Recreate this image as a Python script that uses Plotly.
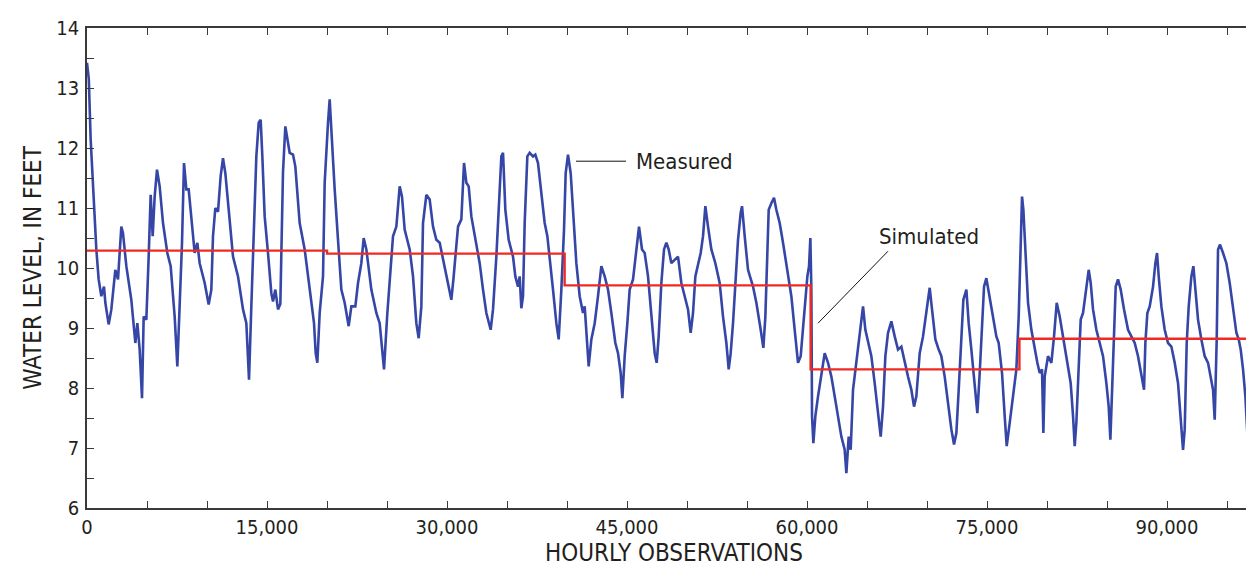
import plotly.graph_objects as go

# ---- Measured water level (hourly observations) ----
measured_x = [
    0, 150, 306, 500, 778, 972, 1194, 1417, 1528, 1806, 2028, 2361, 2583, 2861, 3000, 3278, 3694,
    4028, 4194, 4389, 4583, 4722, 4944, 5139, 5306, 5472, 5639, 5833, 6056, 6333, 6694, 6972, 7306,
    7528, 7722, 7917, 8083, 8278, 8472, 8694, 8972, 9194, 9389, 9806, 10139, 10361, 10500, 10694,
    10917, 11139, 11333, 11528, 11806, 12167, 12583, 13000, 13278, 13500, 13694, 13917, 14111,
    14306, 14472, 14611, 14806, 15083, 15361, 15500, 15694, 15917, 16111, 16333, 16528,
    16889, 17167, 17361, 17722, 18139, 18556, 18917, 19056, 19194, 19389, 19667, 19806, 19944,
    20083, 20222, 20361, 20639, 20917, 21194, 21472, 21806, 22028, 22361, 22583, 22861, 23056,
    23278, 23694, 24111, 24389, 24750, 25028, 25361, 25500, 25778, 26056, 26250, 26472, 26889,
    27167, 27444, 27639, 27861, 28000, 28278, 28556, 28833, 29111, 29389, 29806, 30139, 30361,
    30556, 30917, 31194, 31417, 31611, 31806, 32028, 32444,
    32722, 33000, 33278, 33639, 33833, 34111, 34306, 34528, 34667, 34861, 35139, 35500, 35694,
    35917, 36056, 36194, 36333, 36472, 36694, 36889, 37167, 37361, 37583, 37861, 38139, 38361,
    38556, 38833, 39111, 39306, 39528, 39750, 39889, 40083, 40306, 40500, 40778, 41056, 41333,
    41472, 41694, 41806, 42028, 42306, 42583, 42861, 43139, 43417, 43694, 44028, 44250, 44472,
    44611, 44806, 45028, 45222, 45500, 45778, 46000, 46250, 46472, 46750, 47028, 47306, 47472,
    47639, 47861, 48083, 48278, 48472, 48694, 48972,
    49250, 49528, 49806, 50083, 50306, 50500, 50694, 50917, 51139, 51333, 51528, 51750, 52028,
    52361, 52722, 53000, 53278, 53472, 53639, 53833, 54028, 54250, 54472, 54583, 54806, 55083,
    55500, 55778, 56139, 56361, 56528, 56694, 56806, 57028, 57250, 57444, 57722, 58000, 58361,
    58694, 58972, 59250, 59472, 59750, 60028, 60167, 60278, 60361, 60417, 60528, 60694, 60917,
    61194, 61472, 61750, 62028, 62306, 62639, 62861, 63139, 63278, 63472, 63639, 63833, 64111,
    64389, 64667, 64861, 65083, 65361, 65639, 65917,
    66139, 66333, 66528, 66750, 67028, 67306, 67583, 67861, 68139, 68417, 68694, 68917, 69111,
    69389, 69667, 69944, 70222, 70417, 70694, 70972, 71194, 71472, 71750, 72028, 72250, 72444,
    72639, 72861, 73028, 73278, 73472, 73694, 73972, 74194, 74389, 74583, 74750, 74944, 75222,
    75500, 75778, 75972, 76250, 76472, 76639, 76889, 77167, 77444, 77639, 77806, 77917, 78028,
    78194, 78417, 78694, 78972, 79194, 79389, 79583, 79694, 79806, 80083, 80361, 80583, 80806,
    81056, 81333, 81611,
    81972, 82167, 82306, 82444, 82639, 82806, 83000, 83278, 83472, 83639, 83833, 84111, 84389,
    84667, 84944, 85139, 85278, 85417, 85583, 85722, 85917, 86139, 86417, 86750, 87028, 87306,
    87583, 87861, 88083, 88194, 88361, 88556, 88833, 89028, 89167, 89306, 89528, 89806, 90083,
    90361, 90639, 90917, 91139, 91333, 91472, 91639, 91806, 92028, 92194, 92361, 92583, 92861,
    93139, 93417, 93639, 93833, 93972, 94139, 94250, 94417, 94667, 94944, 95222, 95500, 95778,
    95972, 96139, 96333, 96528, 96750, 97028, 97167, 97306, 97528, 97722, 97861,
]
measured_y = [
    13.42, 13.15, 12.14, 11.31, 10.31, 9.81, 9.53, 9.69, 9.42, 9.06, 9.31, 9.97, 9.81, 10.69, 10.58, 10.03, 9.47,
    8.75, 9.08, 8.64, 7.83, 9.19, 9.14, 10.19, 11.22, 10.53, 11.19, 11.64, 11.36, 10.75, 10.25, 10.03, 9.19,
    8.36, 9.25, 10.42, 11.75, 11.31, 11.31, 10.86, 10.25, 10.42, 10.08, 9.75, 9.39, 9.64, 10.53, 11.0,
    10.94, 11.53, 11.83, 11.58, 10.92, 10.19, 9.86, 9.31, 9.08, 8.14, 9.36, 10.75, 11.86,
    12.42, 12.47, 11.86, 10.86, 10.25, 9.58, 9.44, 9.64, 9.31, 9.40, 11.6, 12.36,
    11.92, 11.89, 11.69, 10.75, 10.31, 9.64, 9.08, 8.58, 8.42, 9.25, 9.86, 11.42, 11.97,
    12.42, 12.81, 12.25, 11.31, 10.47, 9.64, 9.42, 9.03, 9.36, 9.36, 9.75, 10.08, 10.5,
    10.31, 9.64, 9.25, 9.08, 8.31, 9.25, 10.19, 10.53, 10.69, 11.36, 11.19, 10.64, 10.31,
    9.86, 9.08, 8.83, 9.36, 10.75, 11.22, 11.14, 10.69, 10.47, 10.42, 10.03, 9.69, 9.47,
    9.86, 10.69, 10.81, 11.75, 11.42, 11.36, 10.86, 10.42,
    10.08, 9.64, 9.25, 8.97, 9.31, 10.19, 11.03, 11.86, 11.92, 10.97, 10.47, 10.19, 9.86,
    9.69, 9.86, 9.33, 9.53, 10.75, 11.86, 11.92, 11.86, 11.89, 11.75, 11.19, 10.75, 10.53,
    10.19, 9.64, 9.08, 8.81, 9.64, 10.64, 11.58, 11.89, 11.58, 10.97, 10.08, 9.53, 9.25,
    9.36, 8.75, 8.36, 8.81, 9.08, 9.53, 10.03, 9.86, 9.64, 9.25, 8.75, 8.58, 8.25,
    7.83, 8.53, 9.08, 9.64, 9.81, 10.31, 10.69, 10.31, 10.25, 9.86, 9.19, 8.58, 8.42,
    8.86, 9.75, 10.31, 10.42, 10.31, 10.08, 10.14,
    10.19, 9.75, 9.53, 9.31, 8.92, 9.25, 9.86, 10.08, 10.25, 10.53, 11.03, 10.69, 10.31,
    10.08, 9.75, 9.19, 8.75, 8.31, 8.58, 9.08, 9.75, 10.47, 10.92, 11.03, 10.53, 9.97,
    9.69, 9.42, 8.97, 8.67, 9.19, 10.19, 10.97, 11.08, 11.17, 10.97, 10.75, 10.42, 9.97,
    9.53, 8.97, 8.42, 8.53, 9.25, 9.86, 10.03, 10.5, 9.64, 7.53, 7.08, 7.53, 7.86,
    8.19, 8.58, 8.42, 8.19, 7.86, 7.47, 7.19, 6.97, 6.58, 7.19, 6.97, 7.97, 8.42,
    8.92, 9.36, 8.97, 8.75, 8.53, 8.08, 7.53,
    7.19, 7.69, 8.53, 8.92, 9.11, 8.86, 8.64, 8.69, 8.42, 8.19, 7.97, 7.69, 7.86,
    8.58, 8.86, 9.25, 9.67, 9.31, 8.81, 8.64, 8.53, 8.19, 7.75, 7.31, 7.06, 7.25,
    7.97, 8.75, 9.47, 9.64, 9.08, 8.64, 7.97, 7.58, 8.25, 9.08, 9.69, 9.83, 9.53,
    9.19, 8.86, 8.75, 8.25, 7.53, 7.03, 7.42, 7.92, 8.31, 9.19, 10.19, 11.19, 10.97,
    10.19, 9.42, 8.97, 8.64, 8.42, 8.25, 8.31, 7.25, 8.19, 8.53, 8.42, 8.86, 9.42,
    9.19, 8.86, 8.53,
    8.08, 7.53, 7.03, 7.42, 8.53, 9.14, 9.25, 9.64, 9.97, 9.75, 9.31, 8.97, 8.75,
    8.53, 8.08, 7.69, 7.14, 7.97, 9.14, 9.69, 9.81, 9.64, 9.31, 8.97, 8.86, 8.75,
    8.53, 8.19, 7.97, 8.75, 9.25, 9.36, 9.69, 10.08, 10.25, 9.86, 9.36, 8.97, 8.75,
    8.69, 8.42, 8.08, 7.42, 6.97, 7.31, 8.75, 9.36, 9.86, 10.03, 9.69, 9.14, 8.81,
    8.53, 8.42, 8.19, 7.97, 7.47, 8.81, 10.31, 10.39, 10.25, 10.08, 9.75, 9.36, 8.92,
    8.81, 8.64, 8.31, 7.86, 7.03, 6.97, 7.42, 8.42, 8.58, 9.75, 9.97,
]

# ---- Simulated water level (stepwise) ----
simulated_x = [0, 20000, 39800, 60300, 77700, 97830]
simulated_y = [10.29, 10.24, 9.71, 8.31, 8.82, 8.82]

# ---- Axis settings ----
x_range = [0, 97830]
y_range = [6, 14]
x_tickvals = [0, 15000, 30000, 45000, 60000, 75000, 90000]
y_tickvals = [6, 7, 8, 9, 10, 11, 12, 13, 14]

# ---- Labels and leader lines ----
label_texts = ["Measured", "Simulated"]
label_x = [45583, 65833]
label_y = [11.77, 10.53]
leader_x0 = [40750, 66750]
leader_y0 = [11.78, 10.28]
leader_x1 = [44917, 60917]
leader_y1 = [11.78, 9.08]

FONT = "Liberation Sans Narrow, DejaVu Sans Condensed, Arial Narrow, sans-serif"
TXT = "#231f20"
FRAME = "#3a3a3a"

fig = go.Figure()
fig.add_trace(go.Scatter(x=measured_x, y=measured_y, mode="lines",
                         line=dict(color="#3546a6", width=2.6), name="Measured",
                         showlegend=False))
fig.add_trace(go.Scatter(x=simulated_x, y=simulated_y, mode="lines",
                         line=dict(color="#ee2a24", width=2.4, shape="hv"), name="Simulated",
                         showlegend=False))

for i, t in enumerate(label_texts):
    fig.add_shape(type="line", x0=leader_x0[i], y0=leader_y0[i], x1=leader_x1[i], y1=leader_y1[i],
                  xref="x", yref="y", line=dict(color="#111111", width=1))
    fig.add_annotation(x=label_x[i], y=label_y[i], text=t, showarrow=False, xanchor="left",
                       yanchor="middle", font=dict(family=FONT, size=22, color=TXT))

axis_common = dict(showline=True, linecolor=FRAME, linewidth=1.5, mirror="ticks",
                   ticks="inside", ticklen=7, tickwidth=1.2, tickcolor=FRAME,
                   showgrid=False, zeroline=False, automargin=False,
                   tickfont=dict(family=FONT, size=20, color=TXT))

fig.update_xaxes(range=x_range, tickvals=x_tickvals, tickformat=",d",
                 minor=dict(dtick=5000, tick0=0, ticks="inside", ticklen=7, tickwidth=1.2,
                            tickcolor=FRAME, showgrid=False),
                 title=dict(text="HOURLY OBSERVATIONS", standoff=6,
                            font=dict(family=FONT, size=24, color=TXT)),
                 **axis_common)
fig.update_yaxes(range=y_range, tickvals=y_tickvals,
                 minor=dict(dtick=0.5, tick0=0, ticks="inside", ticklen=7, tickwidth=1.2,
                            tickcolor=FRAME, showgrid=False),
                 ticklabelstandoff=2,
                 title=dict(text="WATER LEVEL, IN FEET", standoff=8,
                            font=dict(family=FONT, size=24, color=TXT)),
                 **axis_common)

fig.update_layout(width=1254, height=573, plot_bgcolor="white", paper_bgcolor="white",
                  margin=dict(l=79, r=1, t=20, b=73), showlegend=False)

fig.write_html("out.html")
